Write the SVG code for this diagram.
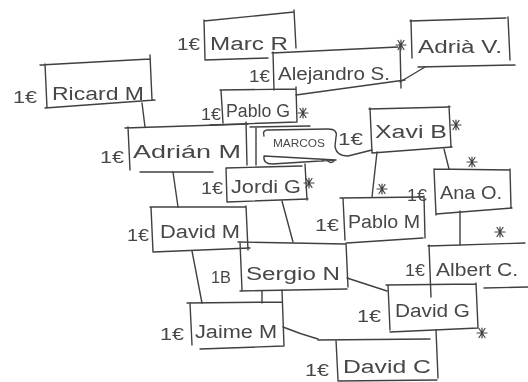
<svg xmlns="http://www.w3.org/2000/svg" width="528" height="382" viewBox="0 0 528 382">
  <style>
    .bg { fill: #ffffff; }
    .ln { fill: none; stroke: #404040; stroke-width: 1.4; stroke-linecap: round; stroke-linejoin: round; }
    .mk { fill: none; stroke: #404040; stroke-width: 1.2; stroke-linecap: round; }
    .nm { font-family: "Liberation Sans", "DejaVu Sans", sans-serif; font-size: 18px; fill: #474747; }
    .eu { font-family: "Liberation Sans", "DejaVu Sans", sans-serif; font-size: 17px; fill: #474747; }
    .sm { font-family: "Liberation Sans", "DejaVu Sans", sans-serif; font-size: 10px; fill: #474747; }
  </style>
  <defs>
    <filter id="soft" x="-5%" y="-5%" width="110%" height="110%">
      <feGaussianBlur stdDeviation="0.35"/>
    </filter>
    <g id="star">
      <path class="mk" d="M-5,0 L5,0 M-3,-4.5 L3,4.5 M3,-4.5 L-3,4.5 M0,-5 L0,5"/>
    </g>
  </defs>
  <rect class="bg" x="0" y="0" width="528" height="382"/>

  <g filter="url(#soft)">
    <!-- links between people -->
    <g id="connectors">
      <path class="ln" d="M142,103 L145,127"/>
      <path class="ln" d="M173,172 L178,207"/>
      <path class="ln" d="M192,251 L202,303"/>
      <path class="ln" d="M282,201 L293,242"/>
      <path class="ln" d="M262,291 L262,303"/>
      <path class="ln" d="M377,152 L372,197"/>
      <path class="ln" d="M444,149 L449,169"/>
      <path class="ln" d="M460,211 L460,245"/>
      <path class="ln" d="M347,278 L387,291"/>
      <path class="ln" d="M283,327 Q300,334 318,339"/>
      <path class="ln" d="M400,82 L425,67"/>
      <path class="ln" d="M250,127 L310,126"/>
      <path class="ln" d="M256,128 L256,165"/>
      <path class="ln" d="M484,288 L528,287"/>
    </g>

    <g id="marc">
      <path class="ln" d="M204,21 L294,12 M204,20 L205,60 M294,10 L296,48 M205,60 L268,58"/>
      <text class="eu" x="177" y="50" textLength="23" lengthAdjust="spacingAndGlyphs">1€</text>
      <text class="nm" x="210" y="50" textLength="78" lengthAdjust="spacingAndGlyphs">Marc R</text>
    </g>

    <g id="ricard">
      <path class="ln" d="M40,65 L150,59 M45,64 L47,108 M150,55 L152,100 M45,108 L155,100"/>
      <text class="eu" x="13" y="103" textLength="24" lengthAdjust="spacingAndGlyphs">1€</text>
      <text class="nm" x="52" y="100" textLength="92" lengthAdjust="spacingAndGlyphs">Ricard M</text>
    </g>

    <g id="alejandro">
      <path class="ln" d="M272,53 L398,47 M273,52 L274,90 M400,44 L401,88 M296,95 L405,80"/>
      <text class="eu" x="249" y="82" textLength="21" lengthAdjust="spacingAndGlyphs">1€</text>
      <text class="nm" x="278" y="80" textLength="112" lengthAdjust="spacingAndGlyphs">Alejandro S.</text>
    </g>

    <g id="adria">
      <path class="ln" d="M410,21 L506,18 M411,20 L412,58 M508,17 L510,60 M418,67 L515,65"/>
      <text class="nm" x="418" y="53" textLength="84" lengthAdjust="spacingAndGlyphs">Adrià V.</text>
    </g>

    <g id="pablo-g">
      <path class="ln" d="M220,90 L296,89 M221,90 L223,123 M296,87 L297,122 M210,125 L297,122"/>
      <text class="eu" x="201" y="120" textLength="20" lengthAdjust="spacingAndGlyphs">1€</text>
      <text class="nm" x="226" y="117" textLength="64" lengthAdjust="spacingAndGlyphs">Pablo G</text>
    </g>

    <g id="adrian">
      <path class="ln" d="M125,128 L248,124 M128,127 L130,170 M246,122 L247,165 M140,172 L213,172"/>
      <text class="eu" x="100" y="163" textLength="24" lengthAdjust="spacingAndGlyphs">1€</text>
      <text class="nm" x="133" y="158" textLength="108" lengthAdjust="spacingAndGlyphs">Adrián M</text>
    </g>

    <g id="marcos">
      <path class="ln" d="M264,136 Q262,130 268,130 L328,129 Q338,129 336,137 L335,146 Q336,156 348,156 L372,150 M336,160 L272,164 Q263,164 264,156 Z"/>
      <path class="mk" d="M322,161 Q325,158 328,161 Q331,164 334,161"/>
      <text class="sm" x="273" y="147" textLength="52" lengthAdjust="spacingAndGlyphs">MARCOS</text>
    </g>

    <g id="xavi">
      <path class="ln" d="M369,109 L450,107 M370,108 L372,153 M449,106 L451,147 M372,153 L452,147"/>
      <text class="eu" x="338" y="145" textLength="25" lengthAdjust="spacingAndGlyphs">1€</text>
      <text class="nm" x="375" y="138" textLength="72" lengthAdjust="spacingAndGlyphs">Xavi B</text>
    </g>

    <g id="jordi">
      <path class="ln" d="M226,168 L302,166 M226,168 L227,202 M305,164 L307,200 M227,202 L308,199"/>
      <text class="eu" x="201" y="194" textLength="22" lengthAdjust="spacingAndGlyphs">1€</text>
      <text class="nm" x="231" y="193" textLength="70" lengthAdjust="spacingAndGlyphs">Jordi G</text>
    </g>

    <g id="david-m">
      <path class="ln" d="M150,207 L246,207 M151,207 L153,252 M246,206 L248,250 M153,252 L250,248"/>
      <text class="eu" x="127" y="241" textLength="22" lengthAdjust="spacingAndGlyphs">1€</text>
      <text class="nm" x="160" y="238" textLength="80" lengthAdjust="spacingAndGlyphs">David M</text>
    </g>

    <g id="pablo-m">
      <path class="ln" d="M340,198 L423,197 M343,198 L345,240 M424,196 L425,238 M347,243 L423,238"/>
      <text class="eu" x="315" y="231" textLength="24" lengthAdjust="spacingAndGlyphs">1€</text>
      <text class="nm" x="348" y="228" textLength="72" lengthAdjust="spacingAndGlyphs">Pablo M</text>
    </g>

    <g id="ana">
      <path class="ln" d="M434,169 L510,170 M434,169 L436,215 M510,169 L511,208 M436,214 L512,208"/>
      <text class="eu" x="407" y="201" textLength="20" lengthAdjust="spacingAndGlyphs">1€</text>
      <text class="nm" x="440" y="199" textLength="62" lengthAdjust="spacingAndGlyphs">Ana O.</text>
    </g>

    <g id="sergio">
      <path class="ln" d="M238,242 L345,244 M240,242 L242,290 M346,243 L348,287 M240,291 L347,289"/>
      <text class="eu" x="211" y="283" textLength="20" lengthAdjust="spacingAndGlyphs">1B</text>
      <text class="nm" x="246" y="280" textLength="94" lengthAdjust="spacingAndGlyphs">Sergio N</text>
    </g>

    <g id="albert">
      <path class="ln" d="M428,246 L525,243 M429,245 L431,297"/>
      <text class="eu" x="405" y="276" textLength="20" lengthAdjust="spacingAndGlyphs">1€</text>
      <text class="nm" x="436" y="276" textLength="82" lengthAdjust="spacingAndGlyphs">Albert C.</text>
    </g>

    <g id="david-g">
      <path class="ln" d="M386,285 L476,284 M388,285 L390,330 M476,283 L478,328 M390,332 L478,328"/>
      <text class="eu" x="357" y="322" textLength="24" lengthAdjust="spacingAndGlyphs">1€</text>
      <text class="nm" x="395" y="317" textLength="75" lengthAdjust="spacingAndGlyphs">David G</text>
    </g>

    <g id="jaime">
      <path class="ln" d="M187,303 L282,302 M190,303 L192,345 M282,290 L284,346 M200,349 L284,346"/>
      <text class="eu" x="160" y="340" textLength="24" lengthAdjust="spacingAndGlyphs">1€</text>
      <text class="nm" x="195" y="338" textLength="82" lengthAdjust="spacingAndGlyphs">Jaime M</text>
    </g>

    <g id="david-c">
      <path class="ln" d="M318,340 L430,339 M336,340 L338,380 M436,330 L438,378 M338,381 L437,380"/>
      <text class="eu" x="305" y="376" textLength="24" lengthAdjust="spacingAndGlyphs">1€</text>
      <text class="nm" x="343" y="373" textLength="88" lengthAdjust="spacingAndGlyphs">David C</text>
    </g>

    <!-- hand-drawn star marks -->
    <use href="#star" x="401" y="45"/>
    <use href="#star" x="303" y="113"/>
    <use href="#star" x="456" y="125"/>
    <use href="#star" x="382" y="189"/>
    <use href="#star" x="472" y="162"/>
    <use href="#star" x="309" y="183"/>
    <use href="#star" x="500" y="232"/>
    <use href="#star" x="482" y="333"/>
  </g>
</svg>
